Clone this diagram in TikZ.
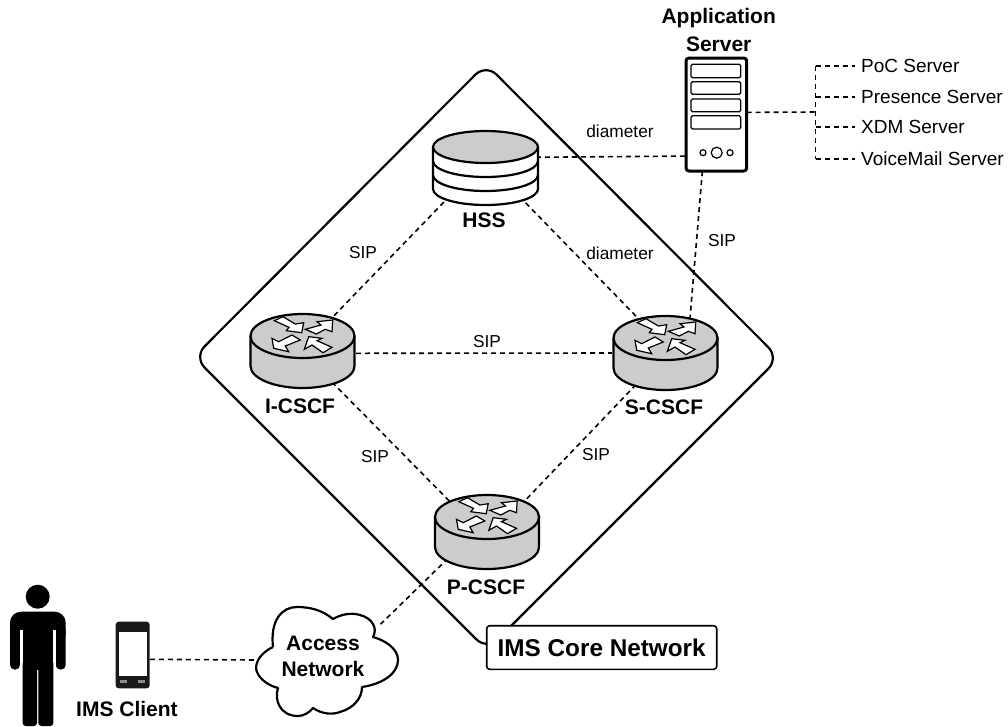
\documentclass[tikz,border=0pt]{standalone}
\usepackage{fontspec}
\setmainfont{Liberation Sans}
\usetikzlibrary{shapes.geometric}

\tikzset{
 link/.style={line width=1.6pt,dash pattern=on 5pt off 4pt},
 port/.style={ellipse,inner sep=0pt,minimum width=107pt,minimum height=75pt},
 title/.style={font=\fontsize{21}{21}\selectfont\bfseries,inner sep=0pt},
 linklabel/.style={font=\fontsize{17.3}{17.3}\selectfont,inner sep=0pt},
 srv/.style={font=\fontsize{19}{19}\selectfont,anchor=west,inner xsep=6pt,inner ysep=0pt},
 outline/.style={line width=2.2pt,line join=round},
 whitearrow/.style={fill=white,draw=black,line width=1.2pt,line join=miter},
 bay/.style={draw=black,line width=1.2pt,rounded corners=1.5pt}
}
\definecolor{bodygray}{gray}{0.8}

\begin{document}
\begin{tikzpicture}[x=1pt,y=1pt,yscale=-1]
 \useasboundingbox (0,0) rectangle (1008,726);

 % core network outline
 \draw[outline,rounded corners=15pt] (486,64)--(779,358)--(487,650)--(194,357)--cycle;

 % places the connectors end at
 \node[port] (icscf) at (302.5,350.5) {};
 \node[port] (scscf) at (665.5,353) {};
 \node[port] (pcscf) at (487,532) {};
 \node[port,minimum width=105pt,minimum height=74pt] (hss) at (485.5,168) {};
 \node[draw=none,inner sep=0pt,minimum width=60pt,minimum height=113pt] (as) at (716.5,114.5) {};
 \node[draw=none,inner sep=0pt,minimum width=34pt,minimum height=66pt] (phone) at (132.7,655) {};
 \node[ellipse,inner sep=0pt,minimum width=141pt,minimum height=108pt] (access) at (327.5,660) {};
 \coordinate (hub) at (815.6,112);

 \node[srv] (poc) at (855,66) {PoC Server};
 \node[srv] (presence) at (855,97) {Presence Server};
 \node[srv] (xdm) at (855,127) {XDM Server};
 \node[srv] (voicemail) at (855,159) {VoiceMail Server};

 \draw[link] (hss.218)--(icscf.48);
 \draw[link] (hss.-40)--(scscf.128);
 \draw[link] (hss.12)--(as.234);
 \draw[link] (as.256)--(scscf.54);
 \draw[link] (icscf.-3)--(scscf.180);
 \draw[link] (icscf.-47)--(pcscf.141);
 \draw[link] (scscf.227)--(pcscf.39);
 \draw[link] (pcscf.214)--(access.34);
 \draw[link] (phone.-14)--(access.180);
 \draw[link] (as.4)--(hub);
 \draw[link] (poc.west-|hub)--(voicemail.west-|hub);
 \draw[link] (poc.west-|hub)--(poc.west);
 \draw[link] (presence.west-|hub)--(presence.west);
 \draw[link] (xdm.west-|hub)--(xdm.west);
 \draw[link] (voicemail.west-|hub)--(voicemail.west);

 % routers
 \foreach \cx/\cy in {302.5/336,665.5/338,487/517} {
  \begin{scope}[shift={(\cx,\cy)}]
   \draw[outline,fill=bodygray] (-52,0)--(-52,30) arc (180:0:52pt and 22pt)--(52,0)--cycle;
   \draw[outline,fill=bodygray] (0,0) ellipse (52pt and 22pt);
   \draw[whitearrow] (-28.2,-15.3)--(-19.5,-19.3)--(-7.2,-12)--(1.2,-13.3)--(-.8,-3.3)--(-16.2,-5.3)--(-13.5,-8.7)--cycle;
   \draw[whitearrow] (2.8,-6.7)--(18.5,-11)--(14.5,-14.3)--(30.2,-16)--(29.5,-4.3)--(22.8,-6.7)--(13.8,-2)--cycle;
   \draw[whitearrow] (-10.5,-1)--(-23.8,5.7)--(-30.5,2.3)--(-28.8,12.3)--(-13.8,15.7)--(-17.2,10)--(-2.2,4)--cycle;
   \draw[whitearrow] (6.2,.7)--(19.5,2.3)--(14.5,4.7)--(29.5,11.3)--(20.5,16.7)--(9.5,9)--(1.8,13.3)--cycle;
  \end{scope}
 }

 % hss
 \draw[outline,fill=white] (433,147)--(433,189) arc (180:0:52.5pt and 16pt)--(538,147)--cycle;
 \draw[outline] (433,161) arc (180:0:52.5pt and 16pt);
 \draw[outline] (433,175) arc (180:0:52.5pt and 16pt);
 \draw[outline,fill=bodygray] (485.5,147) ellipse (52.5pt and 16pt);

 % application server
 \draw[line width=3pt,fill=white,rounded corners=3pt] (686,58) rectangle (746.7,171);
 \draw[bay] (691,64.3) rectangle (740.7,77.7);
 \draw[bay] (691,81.7) rectangle (740.7,94.3);
 \draw[bay] (691,99) rectangle (740.7,111.7);
 \draw[bay] (691,115.7) rectangle (740.7,129);
 \draw[line width=1.2pt] (716.7,152.7) circle (5.5pt);
 \draw[line width=1.2pt] (703,152.7) circle (3pt);
 \draw[line width=1.2pt] (730,152.7) circle (3pt);

 % cloud
 \draw[outline,fill=white] (273,647) .. controls (258,654) and (254,666) .. (257,672)
  .. controls (260,680) and (270,686) .. (278,688)
  .. controls (274,700) and (280,716) .. (298,716)
  .. controls (304,716) and (310,712) .. (313,708)
  .. controls (322,714) and (332,715) .. (340,712)
  .. controls (354,708) and (362,698) .. (362,687)
  .. controls (382,684) and (398,674) .. (398,660)
  .. controls (398,648) and (384,640) .. (373,637)
  .. controls (378,628) and (372,618) .. (360,615)
  .. controls (350,612) and (340,615) .. (333,619)
  .. controls (322,610) and (310,607) .. (297,607)
  .. controls (282,607) and (270,620) .. (273,647);

 % phone
 \fill[black!90,rounded corners=3pt] (115.7,621.7) rectangle (149.7,688.3);
 \fill[white] (118.7,632.3) rectangle (147,676);
 \fill[black!45] (120,680) rectangle (127.3,682.5);
 \fill[black!45] (137.7,680) rectangle (145,682.5);

 % person
 \fill (37.7,596.7) circle (12pt);
 \fill[rounded corners=11pt] (10,611.7)--(65.7,611.7)--(65.7,645)--(10,645)--cycle;
 \fill[rounded corners=4.5pt] (10,625)--(10,669.5)--(20,669.5)--(20,625)--cycle;
 \fill[rounded corners=4.5pt] (55.7,625)--(55.7,669.5)--(65.7,669.5)--(65.7,625)--cycle;
 \fill[white] (20,630) rectangle (22.7,672);
 \fill[white] (53.3,630) rectangle (55.7,672);
 \fill (22.7,625) rectangle (53.3,670);
 \fill[rounded corners=3pt] (22.7,660)--(22.7,726)--(37,726)--(37,660)--cycle;
 \fill[rounded corners=3pt] (38.4,660)--(38.4,726)--(53.3,726)--(53.3,660)--cycle;

 % labels
 \node[title] (hsstext) at (484,220) {HSS};
 \node[title] (icscftext) at (300,406) {I-CSCF};
 \node[title] (scscftext) at (664,407) {S-CSCF};
 \node[title] (pcscftext) at (486,587) {P-CSCF};
 \node[title] (astext) at (718.7,18) {Application};
 \node[title] (astexttwo) at (718.7,44) {Server};
 \node[title] (accesstext) at (323,643) {Access};
 \node[title] (accesstexttwo) at (323,669) {Network};
 \node[title] (clienttext) at (127,709) {IMS Client};
 \node[linklabel] (sipa) at (363,253) {SIP};
 \node[linklabel] (diama) at (620,131) {diameter};
 \node[linklabel] (diamb) at (620,253) {diameter};
 \node[linklabel] (sipb) at (722,241) {SIP};
 \node[linklabel] (sipc) at (487,342) {SIP};
 \node[linklabel] (sipd) at (375,457) {SIP};
 \node[linklabel] (sipe) at (596,455) {SIP};
 \node[draw,line width=1.6pt,fill=white,rounded corners=3pt,minimum width=230pt,minimum height=43.6pt,inner sep=0pt,font=\fontsize{24.3}{24.3}\selectfont\bfseries] (core) at (601.7,647.5) {IMS Core Network};
\end{tikzpicture}
\end{document}
